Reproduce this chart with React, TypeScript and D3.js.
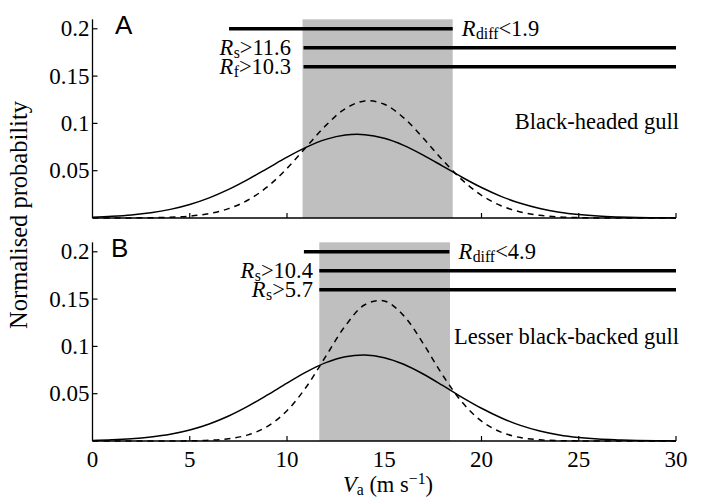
import React from "react";
import * as d3 from "d3";

const speeds = [0, 1, 2, 3, 4, 5, 6, 7, 8, 9, 10, 11, 12, 13, 14, 15, 16, 17, 18, 19, 20, 21, 22, 23, 24, 25, 26, 27, 28, 29, 30];

const bhgSolid = [0.0009, 0.0018, 0.0032, 0.0055, 0.0091, 0.0143, 0.0213, 0.0302, 0.0408, 0.0525, 0.0643, 0.0749, 0.0831, 0.0877, 0.0881, 0.0843, 0.0768, 0.0665, 0.0549, 0.0431, 0.0322, 0.0229, 0.0155, 0.0100, 0.0061, 0.0036, 0.0020, 0.0011, 0.0005, 0.0003, 0.0001];
const bhgDashed = [0, 0, 0.0001, 0.0003, 0.0008, 0.0020, 0.0047, 0.0099, 0.0190, 0.0331, 0.0524, 0.0752, 0.0979, 0.1156, 0.1238, 0.1202, 0.1059, 0.0845, 0.0613, 0.0403, 0.0240, 0.0130, 0.0064, 0.0028, 0.0011, 0.0004, 0.0001, 0, 0, 0, 0];
const lbbgSolid = [0.0006, 0.0012, 0.0023, 0.0042, 0.0071, 0.0116, 0.0180, 0.0264, 0.0368, 0.0487, 0.0612, 0.0731, 0.0828, 0.0890, 0.0909, 0.0881, 0.0811, 0.0708, 0.0587, 0.0462, 0.0346, 0.0246, 0.0165, 0.0106, 0.0064, 0.0037, 0.0020, 0.0011, 0.0005, 0.0002, 0.0001];
const lbbgDashed = [0, 0, 0, 0, 0.0001, 0.0002, 0.0008, 0.0024, 0.0065, 0.0155, 0.0320, 0.0574, 0.0897, 0.1218, 0.1440, 0.1481, 0.1325, 0.1031, 0.0697, 0.0411, 0.0210, 0.0094, 0.0036, 0.0012, 0.0004, 0.0001, 0, 0, 0, 0, 0];

const xTicks = [5, 10, 15, 20, 25, 30];
const xTickLabels = ["0", "5", "10", "15", "20", "25", "30"];
const xLabelValues = [0, 5, 10, 15, 20, 25, 30];
const yTicks = [0.05, 0.1, 0.15, 0.2];
const yTickLabels = ["0.05", "0.1", "0.15", "0.2"];

// panel A
const shadeA = [10.8, 18.52];
const barsA = [
  { from: 7.02, to: 18.52, level: 0.2, sub: "diff", rel: "<", val: "1.9" },
  { from: 10.85, to: 30, level: 0.18, sub: "s", rel: ">", val: "11.6" },
  { from: 10.85, to: 30, level: 0.16, sub: "f", rel: ">", val: "10.3" },
];
// panel B
const shadeB = [11.66, 18.38];
const barsB = [
  { from: 10.87, to: 18.35, level: 0.2, sub: "diff", rel: "<", val: "4.9" },
  { from: 11.66, to: 30, level: 0.18, sub: "s", rel: ">", val: "10.4" },
  { from: 11.66, to: 30, level: 0.16, sub: "s", rel: ">", val: "5.7" },
];

const FONT = "Liberation Serif";
const SANS = "Liberation Sans";
const FS = 22.5;
const TFS = 23;

const x = d3.scaleLinear().domain([0, 30]).range([92.5, 676]);

function Label({ bar, xPos, y, anchor }: any) {
  return (
    <text x={xPos} y={y} textAnchor={anchor} fontFamily={FONT} fontSize={FS} fill="#000">
      <tspan fontStyle="italic">R</tspan>
      <tspan fontSize={FS * 0.7} dx={0.5} dy={3}>{bar.sub}</tspan>
      <tspan dy={-3}>{bar.rel + bar.val}</tspan>
    </text>
  );
}

function Panel({ y0, solid, dashed, shade, bars, letter, name, nameY, leftLabelX, letterX, showXLabels }: any) {
  const y = d3.scaleLinear().domain([0, 0.21]).range([y0, y0 - 0.21 * 946]);
  const line = d3
    .line<number>()
    .x((_, i) => x(speeds[i]))
    .y((d) => y(d))
    .curve(d3.curveCatmullRom);
  return (
    <g>
      {xTicks.map((t) => (
        <line key={t} x1={x(t)} x2={x(t)} y1={y(0)} y2={y(0) - 5} stroke="#000" strokeWidth={1.2} />
      ))}
      {yTicks.map((t) => (
        <line key={t} x1={x(0)} x2={x(0) + 5} y1={y(t)} y2={y(t)} stroke="#000" strokeWidth={1.2} />
      ))}
      <rect x={x(shade[0])} y={y(0.21)} width={x(shade[1]) - x(shade[0])} height={y(0) - y(0.21)} fill="#bfbfbf" />
      <line x1={x(0)} x2={x(0)} y1={y(0.21)} y2={y(0)} stroke="#000" strokeWidth={1.3} />
      <line x1={x(0)} x2={x(30)} y1={y(0)} y2={y(0)} stroke="#000" strokeWidth={1.3} />
      {yTicks.map((t, i) => (
        <text key={t} x={89.5} y={y(t) + 7.5} textAnchor="end" fontFamily={FONT} fontSize={TFS}>
          {yTickLabels[i]}
        </text>
      ))}
      {showXLabels &&
        xLabelValues.map((t, i) => (
          <text key={t} x={x(t)} y={y(0) + 25.5} textAnchor="middle" fontFamily={FONT} fontSize={TFS}>
            {xTickLabels[i]}
          </text>
        ))}
      <path d={line(solid) || ""} fill="none" stroke="#000" strokeWidth={1.5} />
      <path d={line(dashed) || ""} fill="none" stroke="#000" strokeWidth={1.5} strokeDasharray="6,5" />
      {bars.map((b: any, i: number) => (
        <line key={i} x1={x(b.from)} x2={x(b.to)} y1={y(b.level)} y2={y(b.level)} stroke="#000" strokeWidth={3.5} />
      ))}
      <Label bar={bars[0]} xPos={x(bars[0].to) + 9} y={y(bars[0].level) + 7} anchor="start" />
      <Label bar={bars[1]} xPos={leftLabelX} y={y(bars[1].level) + 7.5} anchor="end" />
      <Label bar={bars[2]} xPos={leftLabelX} y={y(bars[2].level) + 7.5} anchor="end" />
      <text x={letterX} y={y(0.21) + 15} fontFamily={SANS} fontSize={26}>
        {letter}
      </text>
      <text x={679} y={nameY} textAnchor="end" fontFamily={FONT} fontSize={FS}>
        {name}
      </text>
    </g>
  );
}

export default function App() {
  return (
    <svg width={704} height={504} style={{ position: "absolute", left: 0, top: 0, background: "#fff" }}>
      <rect width={704} height={504} fill="#fff" />
      <Panel
        y0={218}
        solid={bhgSolid}
        dashed={bhgDashed}
        shade={shadeA}
        bars={barsA}
        letter="A"
        name="Black-headed gull"
        nameY={129}
        leftLabelX={291}
        letterX={115}
        showXLabels={false}
      />
      <Panel
        y0={441}
        solid={lbbgSolid}
        dashed={lbbgDashed}
        shade={shadeB}
        bars={barsB}
        letter="B"
        name="Lesser black-backed gull"
        nameY={344}
        leftLabelX={313}
        letterX={111}
        showXLabels={true}
      />
      <text transform="translate(27,215) rotate(-90)" textAnchor="middle" fontFamily={FONT} fontSize={24.5}>
        Normalised probability
      </text>
      <text x={343} y={492} fontFamily={FONT} fontSize={FS}>
        <tspan fontStyle="italic">V</tspan>
        <tspan fontSize={FS * 0.7} dy={3}>a</tspan>
        <tspan dy={-3}> (m s</tspan>
        <tspan fontSize={FS * 0.7} dy={-8}>−1</tspan>
        <tspan dy={8}>)</tspan>
      </text>
    </svg>
  );
}
